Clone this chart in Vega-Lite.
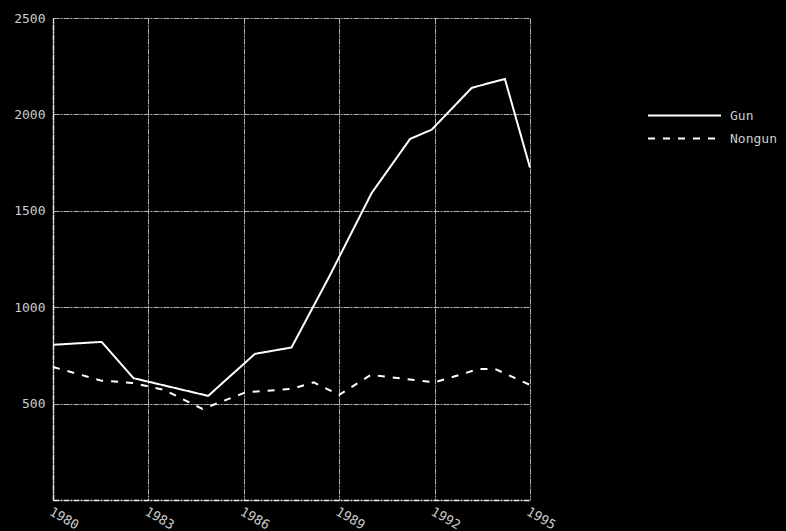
{
  "$schema": "https://vega.github.io/schema/vega-lite/v6.json",
  "width": 477,
  "height": 482,
  "autosize": "none",
  "padding": {"left": 53, "top": 18, "right": 256, "bottom": 31},
  "background": "black",
  "config": {
    "view": {"stroke": null},
    "font": "DejaVu Sans Mono",
    "axis": {"gridColor": "#dddddd", "gridWidth": 1, "gridOpacity": 0.8, "gridDash": [6, 1, 2, 1], "domainColor": "#eeeeee", "domainWidth": 1.5, "domainDash": [6, 1, 2, 1], "tickColor": "#cccccc", "tickSize": 0, "labelColor": "#cccccc", "labelFontSize": 13, "labelFont": "DejaVu Sans Mono", "title": null}
  },
  "data": {
    "values": [
      {"year": 1980.0, "value": 805, "type": "Gun"},
      {"year": 1981.53, "value": 820, "type": "Gun"},
      {"year": 1982.53, "value": 632, "type": "Gun"},
      {"year": 1984.88, "value": 540, "type": "Gun"},
      {"year": 1986.35, "value": 758, "type": "Gun"},
      {"year": 1987.5, "value": 791, "type": "Gun"},
      {"year": 1988.7, "value": 1163, "type": "Gun"},
      {"year": 1990.02, "value": 1592, "type": "Gun"},
      {"year": 1991.23, "value": 1873, "type": "Gun"},
      {"year": 1991.91, "value": 1921, "type": "Gun"},
      {"year": 1993.17, "value": 2138, "type": "Gun"},
      {"year": 1994.21, "value": 2184, "type": "Gun"},
      {"year": 1995.0, "value": 1724, "type": "Gun"},
      {"year": 1980.0, "value": 690, "type": "Nongun"},
      {"year": 1981.5, "value": 620, "type": "Nongun"},
      {"year": 1982.5, "value": 607, "type": "Nongun"},
      {"year": 1983.5, "value": 571, "type": "Nongun"},
      {"year": 1984.7, "value": 472, "type": "Nongun"},
      {"year": 1986.05, "value": 558, "type": "Nongun"},
      {"year": 1987.5, "value": 576, "type": "Nongun"},
      {"year": 1988.2, "value": 610, "type": "Nongun"},
      {"year": 1989.0, "value": 545, "type": "Nongun"},
      {"year": 1990.0, "value": 649, "type": "Nongun"},
      {"year": 1992.0, "value": 610, "type": "Nongun"},
      {"year": 1993.4, "value": 680, "type": "Nongun"},
      {"year": 1993.9, "value": 680, "type": "Nongun"},
      {"year": 1995.0, "value": 597, "type": "Nongun"}
    ]
  },
  "mark": {"type": "line", "color": "white", "strokeWidth": 2},
  "encoding": {
    "x": {
      "field": "year", "type": "quantitative",
      "scale": {"domain": [1980, 1995], "nice": false, "zero": false},
      "axis": {"values": [1980, 1983, 1986, 1989, 1992, 1995], "format": "d", "labelAngle": 30, "labelAlign": "left", "labelBaseline": "top", "labelPadding": 5}
    },
    "y": {
      "field": "value", "type": "quantitative",
      "scale": {"domain": [0, 2500], "nice": false},
      "axis": {"values": [500, 1000, 1500, 2000, 2500], "format": "d", "labelPadding": 8}
    },
    "strokeDash": {
      "field": "type", "type": "nominal",
      "scale": {"domain": ["Gun", "Nongun"], "range": [[1, 0], [7, 8]]},
      "legend": {"title": null, "orient": "none", "legendX": 594, "legendY": 86, "symbolType": "stroke", "symbolSize": 5329, "symbolStrokeColor": "white", "symbolStrokeWidth": 2, "labelColor": "#cccccc", "labelFontSize": 13, "labelFont": "DejaVu Sans Mono", "clipHeight": 23, "rowPadding": 0, "labelOffset": 8}
    }
  }
}
